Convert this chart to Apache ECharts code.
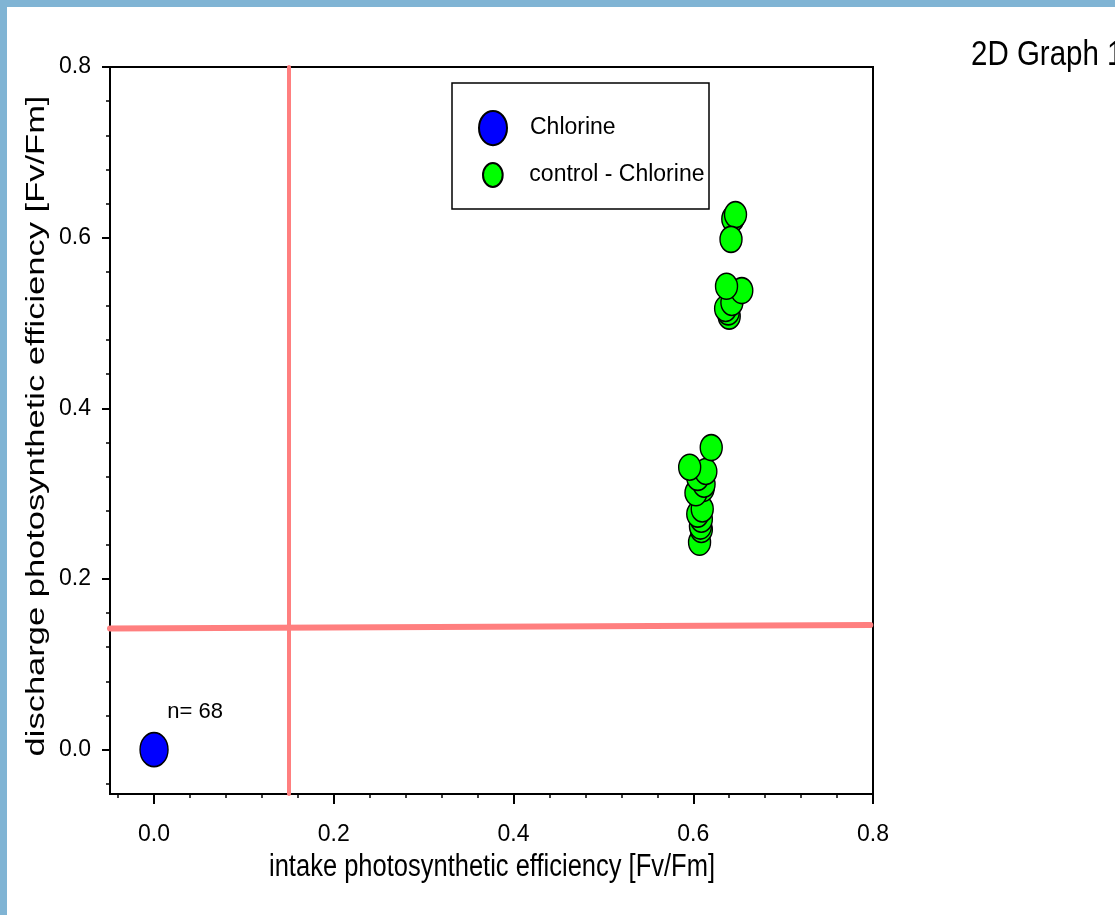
<!DOCTYPE html>
<html>
<head>
<meta charset="utf-8">
<script src="https://cdn.jsdelivr.net/npm/echarts@6/dist/echarts.min.js"></script>
<style>
  html, body { margin: 0; padding: 0; background: #fff; }
  #chart { position: absolute; left: 0; top: 0; width: 1115px; height: 915px; }
  .band { position: absolute; background: #80b4d4; }
</style>
</head>
<body>
<div id="chart"></div>
<div class="band" style="left:0;top:0;width:1115px;height:7px"></div>
<div class="band" style="left:0;top:0;width:7px;height:915px"></div>
<script>
// chart values
var chlorineX = [0.0];
var chlorineY = [0.0];
var controlX = [0.644, 0.647, 0.642, 0.640, 0.639, 0.636, 0.643, 0.654, 0.637,
  0.607, 0.609, 0.608, 0.609, 0.605, 0.610, 0.611, 0.603, 0.612, 0.605, 0.614, 0.596, 0.620];
var controlY = [0.622, 0.627, 0.598, 0.508, 0.513, 0.517, 0.524, 0.538, 0.543,
  0.243, 0.258, 0.262, 0.270, 0.276, 0.282, 0.306, 0.301, 0.311, 0.319, 0.326, 0.331, 0.354];
var majorTicks = [0, 0.2, 0.4, 0.6, 0.8];
var minorTicks = [-0.04, 0.04, 0.08, 0.12, 0.16, 0.24, 0.28, 0.32, 0.36,
  0.44, 0.48, 0.52, 0.56, 0.64, 0.68, 0.72, 0.76];
var thresholdX = 0.15;
var thresholdY = [0.142, 0.146];
var sampleNote = 'n= 68';

var FONT = '"Liberation Sans", Arial, sans-serif';
// ellipse outline, a bit taller than wide
var ELLIPSE = 'path://M0.82,0C0.82,0.552,0.453,1,0,1C-0.453,1,-0.82,0.552,-0.82,0C-0.82,-0.552,-0.453,-1,0,-1C0.453,-1,0.82,-0.552,0.82,0Z';

function pairs(xs, ys) {
  var out = [];
  for (var i = 0; i < xs.length; i++) out.push([xs[i], ys[i]]);
  return out;
}

function fmt(v) { return v.toFixed(1); }

var myChart = echarts.init(document.getElementById('chart'));

var xMin = -0.049, xMax = 0.8, yMin = -0.052, yMax = 0.8;

function majorAxis(min, max, isX) {
  return {
    type: 'value',
    gridIndex: 0,
    position: isX ? 'bottom' : 'left',
    min: min,
    max: max,
    axisLine: { show: true, onZero: false, lineStyle: { color: '#000', width: 2 } },
    axisTick: { show: true, inside: false, length: isX ? 10 : 8, customValues: majorTicks,
      lineStyle: { color: '#000', width: 2 } },
    axisLabel: { show: true, customValues: majorTicks, formatter: fmt, margin: isX ? 29 : 19,
      color: '#000', fontFamily: FONT, fontSize: 23 },
    splitLine: { show: false }
  };
}

function minorAxis(min, max, isX) {
  return {
    type: 'value',
    gridIndex: 0,
    position: isX ? 'bottom' : 'left',
    min: min,
    max: max,
    axisLine: { show: false, onZero: false },
    axisTick: { show: true, inside: false, length: 4, customValues: minorTicks,
      lineStyle: { color: '#000', width: 1.5 } },
    axisLabel: { show: false },
    splitLine: { show: false }
  };
}

var option = {
  animation: false,
  backgroundColor: '#fff',
  grid: {
    show: true,
    left: 110,
    top: 67,
    width: 763,
    height: 727,
    borderColor: '#000',
    borderWidth: 2,
    backgroundColor: 'transparent'
  },
  xAxis: [majorAxis(xMin, xMax, true), minorAxis(xMin, xMax, true)],
  yAxis: [majorAxis(yMin, yMax, false), minorAxis(yMin, yMax, false)],
  legend: [
    {
      left: 478, top: 110, padding: 0,
      itemWidth: 28, itemHeight: 35,
      data: [{ name: 'Chlorine', icon: ELLIPSE }],
      textStyle: { color: '#000', fontFamily: FONT, fontSize: 23, padding: [0, 0, 0, 18] }
    },
    {
      left: 482, top: 162, padding: 0,
      itemWidth: 21, itemHeight: 24,
      data: [{ name: 'control - Chlorine', icon: ELLIPSE }],
      textStyle: { color: '#000', fontFamily: FONT, fontSize: 23, padding: [0, 0, 0, 21] }
    }
  ],
  graphic: [
    {
      type: 'rect',
      shape: { x: 452, y: 83, width: 257, height: 126 },
      style: { fill: 'transparent', stroke: '#000', lineWidth: 1.5 },
      z: 10
    },
    {
      type: 'text',
      x: 37, y: 426,
      rotation: Math.PI / 2,
      scaleX: 1.38,
      style: {
        text: 'discharge photosynthetic efficiency [Fv/Fm]',
        fontFamily: FONT,
        fontSize: 25,
        fill: '#000',
        align: 'center',
        verticalAlign: 'middle'
      }
    },
    {
      type: 'text',
      x: 492, y: 868,
      scaleY: 1.2,
      style: {
        text: 'intake photosynthetic efficiency [Fv/Fm]',
        fontFamily: FONT,
        fontSize: 25.5,
        fill: '#000',
        align: 'center',
        verticalAlign: 'middle'
      }
    },
    {
      type: 'text',
      x: 971, y: 55,
      scaleY: 1.2,
      style: {
        text: '2D Graph 1',
        fontFamily: FONT,
        fontSize: 29.5,
        fill: '#000',
        align: 'left',
        verticalAlign: 'middle'
      }
    }
  ],
  series: [
    {
      name: 'Chlorine',
      type: 'scatter',
      clip: false,
      symbol: ELLIPSE,
      symbolSize: [28, 34],
      itemStyle: { color: '#0000ff', borderColor: '#000', borderWidth: 1.5, opacity: 1 },
      label: {
        show: true,
        formatter: sampleNote,
        position: 'inside',
        offset: [41, -38],
        color: '#000',
        fontFamily: FONT,
        fontSize: 22
      },
      markLine: {
        silent: true,
        symbol: 'none',
        label: { show: false },
        lineStyle: { color: '#ff7f7f', type: 'solid', cap: 'round' },
        data: [
          [
            { coord: [thresholdX, yMax], lineStyle: { width: 4 } },
            { coord: [thresholdX, yMin] }
          ],
          [
            { coord: [xMin, thresholdY[0]], lineStyle: { width: 6 } },
            { coord: [xMax - 0.003, thresholdY[1]] }
          ]
        ]
      },
      data: pairs(chlorineX, chlorineY)
    },
    {
      name: 'control - Chlorine',
      type: 'scatter',
      symbol: ELLIPSE,
      symbolSize: [22, 26],
      itemStyle: { color: '#00ff00', borderColor: '#000', borderWidth: 1.5, opacity: 1 },
      data: pairs(controlX, controlY)
    }
  ]
};

option && myChart.setOption(option);
</script>
</body>
</html>
